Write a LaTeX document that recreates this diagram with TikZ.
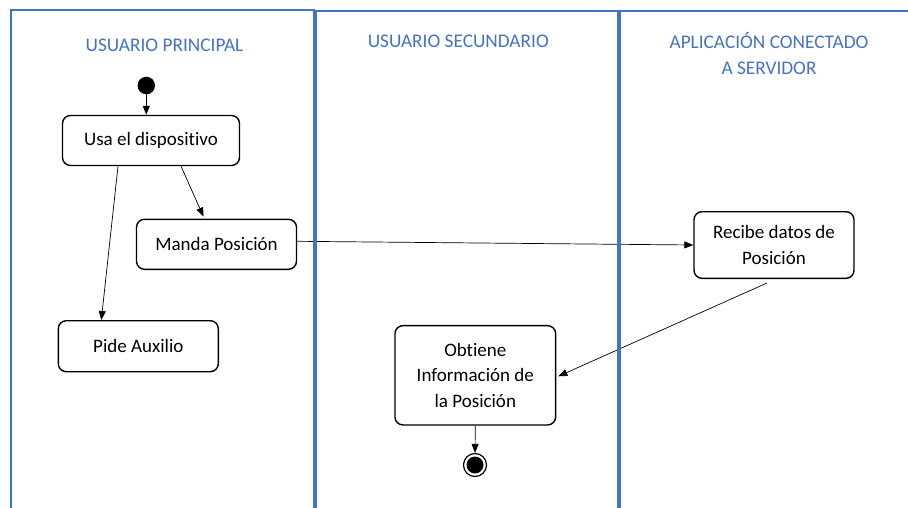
\documentclass[tikz,border=0pt]{standalone}
\usepackage{fontspec}
\setmainfont[Ligatures=NoCommon]{Carlito}
\usetikzlibrary{arrows.meta}
\definecolor{laneblue}{HTML}{4472C4}
\begin{document}
\begin{tikzpicture}[x=1pt,y=-1pt,
  act/.style={draw=black, line width=1.4pt, rounded corners=8pt, align=center,
    font=\fontsize{19}{25.5}\selectfont, inner sep=0pt},
  lanetitle/.style={text=laneblue, align=center, font=\fontsize{19.3}{26}\selectfont, inner sep=0pt},
  lanethin/.style={draw=laneblue, line width=2pt},
  lanethick/.style={draw=laneblue, line width=4pt},
  flow/.style={-{Triangle[length=9pt,width=7pt]}, line width=0.7pt}]
\useasboundingbox (0,0) rectangle (908,508);

% titles
\node[lanetitle, anchor=base] (t1) at (164.5,51.7) {USUARIO PRINCIPAL};
\node[lanetitle, anchor=base] (t2) at (458.3,48) {USUARIO SECUNDARIO};
\node[lanetitle] (t3) at (769,54) {APLICACIÓN CONECTADO\\A SERVIDOR};

% start / end
\node[circle, fill=black, minimum size=17.5pt, inner sep=0pt] (start) at (146.3,85.5) {};
\node[circle, draw=black, line width=1.2pt, minimum size=23pt, inner sep=0pt] (endo) at (475,465) {};
\node[circle, fill=black, minimum size=17pt, inner sep=0pt] (endi) at (475,465) {};

% activities
\node[act, minimum width=177pt, minimum height=50pt] (usa) at (151,140.5) {Usa el dispositivo};
\node[act, minimum width=160pt, minimum height=50pt] (manda) at (216.5,244.3) {Manda Posición};
\node[act, minimum width=160pt, minimum height=51pt] (pide) at (138.3,346.2) {Pide Auxilio};
\node[act, minimum width=160pt, minimum height=66.6pt] (recibe) at (774,245) {Recibe datos de\\Posición};
\node[act, minimum width=160.7pt, minimum height=99.3pt] (obtiene) at (475.3,375.3) {Obtiene\\Información de\\la Posición};

% flows
\draw[flow] (start.south) -- (start.south |- usa.north);
\draw[flow] ([xshift=-33pt]usa.south) -- ([xshift=-37pt]pide.north);
\draw[flow] ([xshift=30pt]usa.south) -- ([xshift=-13pt,yshift=2pt]manda.north);
\draw[flow] ([yshift=3pt]manda.east) -- (recibe.west);
\draw[flow] ([xshift=-7pt,yshift=-4pt]recibe.south) -- ([xshift=2pt,yshift=-1pt]obtiene.east);
\draw[flow] (obtiene.south) -- (endo.north);

% lanes
\draw[lanethin] (11,508) -- (11,10) -- (315,10);
\draw[lanethin] (315,11) -- (908,11);
\draw[lanethick] (315,10) -- (315,508);
\draw[lanethick] (619,11) -- (619,508);
\end{tikzpicture}
\end{document}
